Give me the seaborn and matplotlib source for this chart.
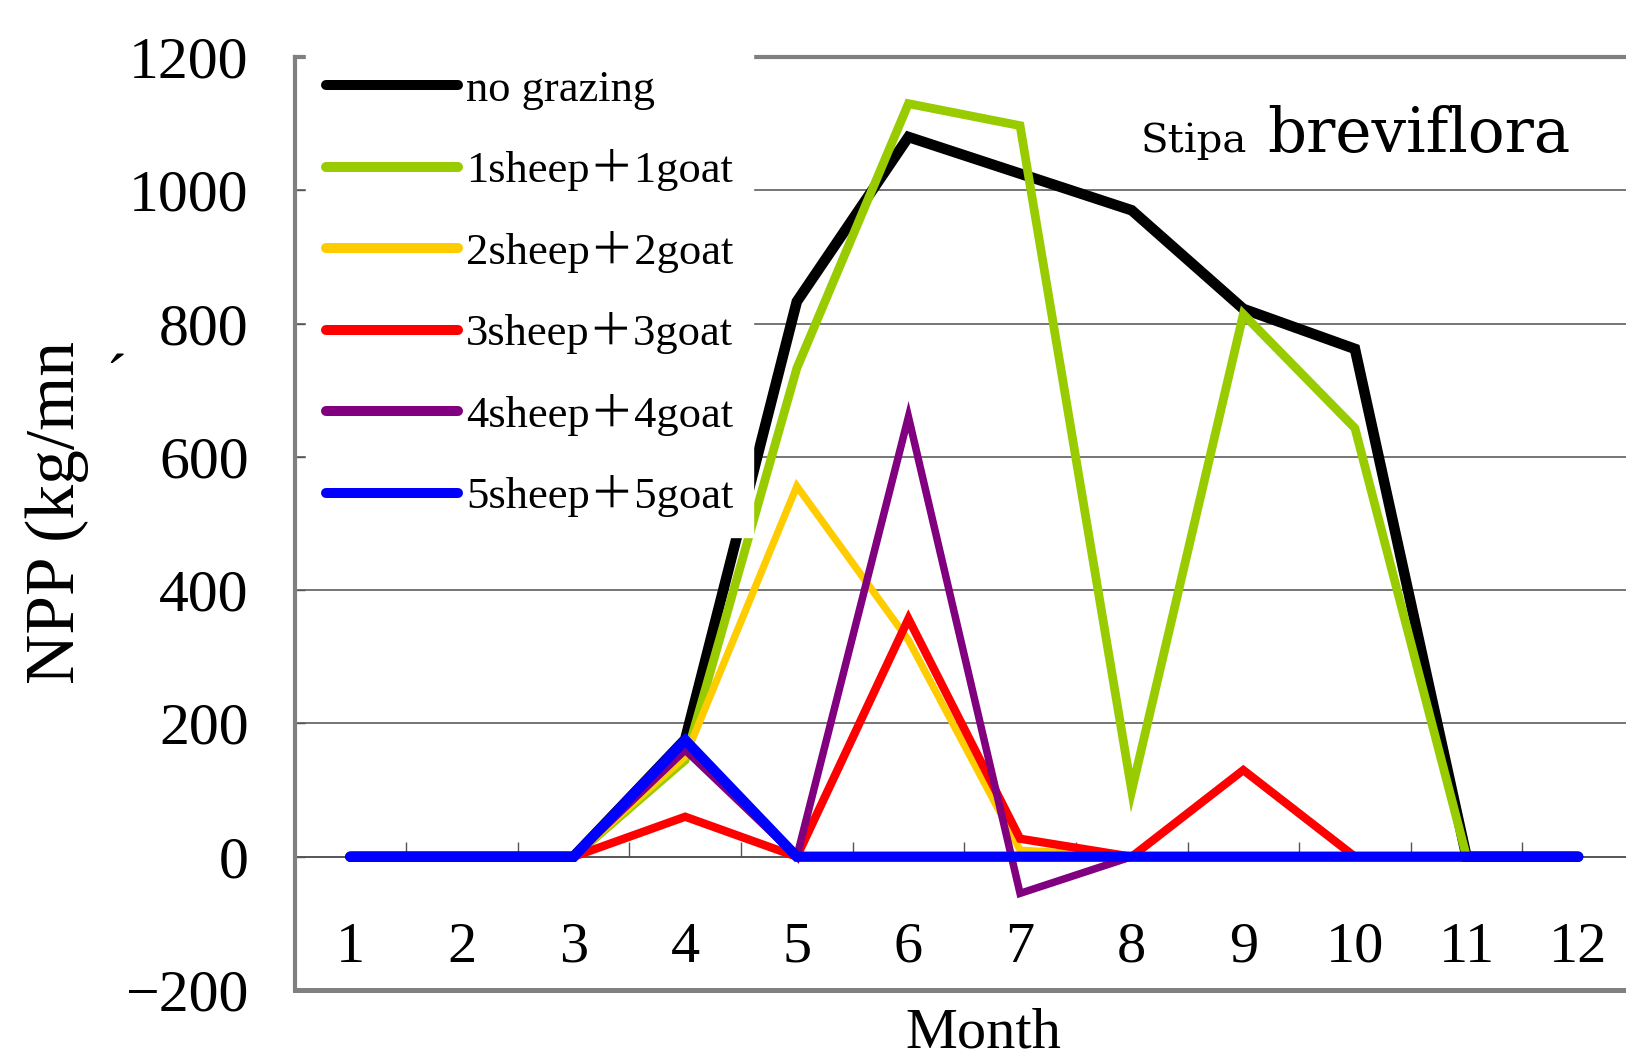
import matplotlib
matplotlib.use("Agg")
import matplotlib.pyplot as plt
import seaborn as sns
import pandas as pd
from matplotlib.ticker import FixedLocator

# ---------------- data ----------------
months = [1, 2, 3, 4, 5, 6, 7, 8, 9, 10, 11, 12]
month_labels = ["1", "2", "3", "4", "5", "6", "7", "8", "9", "10", "11", "12"]
series_names = ["no grazing", "1sheep＋1goat", "2sheep＋2goat",
                "3sheep＋3goat", "4sheep＋4goat", "5sheep＋5goat"]
no_grazing = [0, 0, 0, 176, 833, 1080, 1025, 970, 822, 762, 0, 0]
g1 = [0, 0, 0, 145, 733, 1130, 1097, 99, 814, 643, 0, 0]
g2 = [0, 0, 0, 150, 556, 325, 10, 0, 0, 0, 0, 0]
g3 = [0, 0, 0, 60, 0, 357, 27, 0, 130, 0, 0, 0]
g4 = [0, 0, 0, 160, 0, 660, -55, 0, 0, 0, 0, 0]
g5 = [0, 0, 0, 175, 0, 0, 0, 0, 0, 0, 0, 0]
yticks = [-200, 0, 200, 400, 600, 800, 1000, 1200]
ytick_labels = ["−200", "0", "200", "400", "600", "800", "1000", "1200"]

colors = ["#000000", "#99CC00", "#FFCC00", "#FF0000", "#800080", "#0000FF"]
widths = [7.6, 6.3, 5.2, 6.0, 5.4, 7.4]
values = [no_grazing, g1, g2, g3, g4, g5]

sns.set_theme(style="white")
plt.rcParams["font.family"] = ["Liberation Serif", "Noto Sans CJK SC", "DejaVu Sans"]
plt.rcParams["text.color"] = "black"
plt.rcParams["axes.labelcolor"] = "black"
plt.rcParams["xtick.labelcolor"] = "black"
plt.rcParams["ytick.labelcolor"] = "black"

W, H = 1626, 1061
fig = plt.figure(figsize=(W / 100, H / 100), dpi=100)
left_px, right_px, top_px, bot_px = 294.5, 1634.0, 57.0, 990.0
ax = fig.add_axes([left_px / W, 1 - bot_px / H, (right_px - left_px) / W, (bot_px - top_px) / H])

for name, vals, c, lw in zip(series_names, values, colors, widths):
    df = pd.DataFrame({"Month": months, "NPP": vals})
    sns.lineplot(data=df, x="Month", y="NPP", color=c, linewidth=lw, label=name,
                 ax=ax, zorder=3, solid_joinstyle="miter")

ax.set_xlim(0.5, 12.5)
ax.set_ylim(-200, 1200)
ax.set_xlabel("")
ax.set_ylabel("")

# gridlines
ax.set_axisbelow(True)
ax.yaxis.set_major_locator(FixedLocator(yticks))
ax.grid(axis="y", color="#505050", linewidth=1.1)
ax.grid(axis="x", visible=False)

# spines
for s in ["left", "bottom", "top", "right"]:
    ax.spines[s].set_color("#808080")
ax.spines["left"].set_linewidth(3.0)
ax.spines["bottom"].set_linewidth(3.6)
ax.spines["top"].set_linewidth(3.0)
ax.spines["right"].set_linewidth(3.0)

ax.set_yticks(yticks)
ax.set_yticklabels(ytick_labels)
ax.tick_params(axis="y", direction="in", length=7, width=1.0, color="#555555",
               pad=33, labelsize=43, left=True, labelcolor="black")
ax.tick_params(axis="x", bottom=False, labelbottom=False)

# category axis crossing at 0
sec = ax.secondary_xaxis(200 / 1400)
sec.spines["bottom"].set_color("#505050")
sec.spines["bottom"].set_linewidth(1.1)
sec.set_xticks(months)
sec.set_xticklabels(month_labels)
sec.xaxis.set_minor_locator(FixedLocator([m + 0.5 for m in months]))
sec.tick_params(axis="x", which="major", length=0, pad=47, labelsize=42, labelcolor="black")
sec.tick_params(axis="x", which="minor", direction="in", length=11, width=1.0,
                color="#555555", bottom=True)

# legend
leg = ax.legend(loc="upper left", bbox_to_anchor=((306 - left_px) / (right_px - left_px), 1.008),
                borderaxespad=0, frameon=True, fancybox=False, framealpha=1,
                facecolor="white", edgecolor="white", fontsize=32,
                handlelength=2.97, handletextpad=0.18, borderpad=0.45,
                labelspacing=0.89)
leg.set_zorder(10)
for h in leg.legend_handles:
    h.set_linewidth(7.2)
for t in leg.get_texts():
    t.set_color("black")

# species label
fig.text(1141 / W, 1 - 152 / H, "Stipa", fontsize=29, family="DejaVu Serif",
         ha="left", va="baseline", color="black")
fig.text(1267 / W, 1 - 152 / H, "breviflora", fontsize=44, family="DejaVu Serif",
         ha="left", va="baseline", color="black")

# axis titles
fig.text(57 / W, 1 - 684 / H, "NPP (kg/mn", fontsize=50, rotation=90,
         ha="center", va="bottom", color="black")
fig.text(116 / W, 1 - 398 / H, "´", fontsize=46, ha="center", va="baseline",
         color="black")
fig.text(983 / W, 1 - 1047 / H, "Month", fontsize=42, ha="center", va="baseline",
         color="black")

fig.savefig("out.png", dpi=100)
